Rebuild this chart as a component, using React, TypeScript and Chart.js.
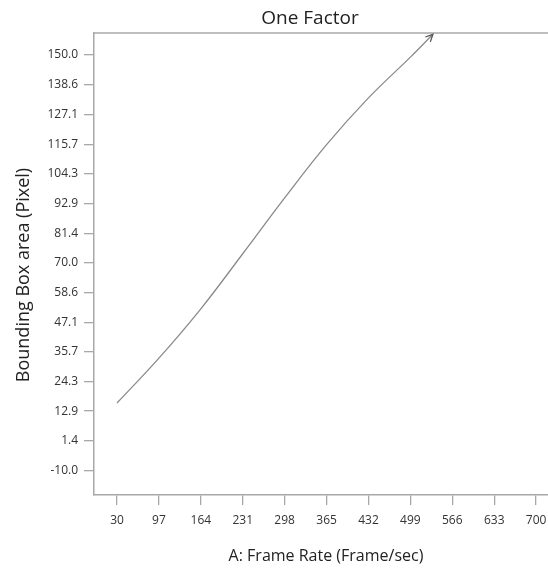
import React, { useEffect, useRef } from "react";
import { Chart, registerables } from "chart.js";

Chart.register(...registerables);

const chartTitle = "One Factor";
const xAxisTitle = "A: Frame Rate (Frame/sec)";
const yAxisTitle = "Bounding Box area (Pixel)";

const xTicks = [30, 97, 164, 231, 298, 365, 432, 499, 566, 633, 700];
const yTicks = [-10.0, 1.4, 12.9, 24.3, 35.7, 47.1, 58.6, 70.0, 81.4, 92.9, 104.3, 115.7, 127.1, 138.6, 150.0];

const frameRate = [30, 97, 164, 231, 298, 365, 432, 499, 535];
const boxArea = [16.0, 33.3, 52.3, 73.5, 95.0, 115.5, 133.5, 149.2, 158.0];

const xMin = -6.8;
const xMax = 719;
const yMin = -19.4;
const yMax = 158.5;

const frameColor = "#a8a8a8";
const lineColor = "#8a8a8a";
const textColor = "#333333";

const framePlugin = {
  id: "framePlugin",
  afterDraw(chart: any) {
    const { ctx, chartArea } = chart;
    ctx.save();
    // top line
    ctx.strokeStyle = frameColor;
    ctx.lineWidth = 1.5;
    ctx.beginPath();
    ctx.moveTo(chartArea.left, chartArea.top);
    ctx.lineTo(chartArea.right, chartArea.top);
    ctx.stroke();
    // chart title
    ctx.fillStyle = "#222222";
    ctx.textAlign = "center";
    ctx.textBaseline = "middle";
    ctx.font = "19px 'Open Sans'";
    ctx.fillText(chartTitle, 310, 19);
    // x axis title
    ctx.font = "16px 'Open Sans'";
    ctx.fillText(xAxisTitle, 326, 556);
    // y axis title
    ctx.save();
    ctx.translate(24, 275);
    ctx.rotate(-Math.PI / 2);
    ctx.font = "18px 'Open Sans'";
    ctx.fillText(yAxisTitle, 0, 0);
    ctx.restore();
    // arrow head
    const meta = chart.getDatasetMeta(0);
    const pts = meta.data;
    if (pts.length > 1) {
      const p = pts[pts.length - 1];
      const q = pts[pts.length - 2];
      const px = p.x, py = p.y;
      let bx = p.cp1x !== undefined ? p.cp1x : q.x;
      let by = p.cp1y !== undefined ? p.cp1y : q.y;
      if (Math.abs(bx - px) < 0.5 && Math.abs(by - py) < 0.5) { bx = q.x; by = q.y; }
      const ang = Math.atan2(py - by, px - bx);
      const len = 8;
      const spread = 0.45;
      ctx.strokeStyle = "#555555";
      ctx.lineWidth = 1.3;
      ctx.beginPath();
      ctx.moveTo(px - len * Math.cos(ang - spread), py - len * Math.sin(ang - spread));
      ctx.lineTo(px, py);
      ctx.lineTo(px - len * Math.cos(ang + spread), py - len * Math.sin(ang + spread));
      ctx.stroke();
    }
    ctx.restore();
  },
};

export default function App() {
  const canvasRef = useRef<HTMLCanvasElement | null>(null);

  useEffect(() => {
    if (!canvasRef.current) return;
    const chart = new Chart(canvasRef.current, {
      type: "scatter",
      data: {
        datasets: [
          {
            data: frameRate.map((x, i) => ({ x, y: boxArea[i] })),
            showLine: true,
            borderColor: lineColor,
            borderWidth: 1.3,
            pointRadius: 0,
            pointHoverRadius: 0,
            tension: 0.4,
            fill: false,
          },
        ],
      },
      options: {
        animation: false,
        responsive: true,
        maintainAspectRatio: false,
        layout: { padding: { top: 33, right: 0, left: 0, bottom: 0 } },
        plugins: {
          legend: { display: false },
          tooltip: { enabled: false },
          title: { display: false },
        },
        scales: {
          x: {
            type: "linear",
            min: xMin,
            max: xMax,
            afterBuildTicks: (scale: any) => {
              scale.ticks = xTicks.map((v) => ({ value: v }));
            },
            afterFit: (scale: any) => {
              scale.height = 75;
              scale.paddingLeft = 0;
              scale.paddingRight = 0;
            },
            ticks: {
              color: textColor,
              font: { family: "'Open Sans'", size: 12 },
              padding: 8,
              autoSkip: false,
              maxRotation: 0,
              callback: (v: any) => String(v),
            },
            grid: {
              display: true,
              drawOnChartArea: false,
              drawTicks: true,
              tickLength: 10,
              color: frameColor,
              lineWidth: 1.3,
            },
            border: { display: true, color: frameColor, width: 1.5 },
          },
          y: {
            type: "linear",
            min: yMin,
            max: yMax,
            afterBuildTicks: (scale: any) => {
              scale.ticks = yTicks.map((v) => ({ value: v }));
            },
            afterFit: (scale: any) => {
              scale.width = 94;
              scale.paddingTop = 0;
              scale.paddingBottom = 0;
            },
            ticks: {
              color: textColor,
              font: { family: "'Open Sans'", size: 12 },
              padding: 6,
              autoSkip: false,
              callback: (v: any) => Number(v).toFixed(1),
            },
            grid: {
              display: true,
              drawOnChartArea: false,
              drawTicks: true,
              tickLength: 10,
              color: frameColor,
              lineWidth: 1.3,
            },
            border: { display: true, color: frameColor, width: 1.5 },
          },
        },
      },
      plugins: [framePlugin],
    });
    return () => chart.destroy();
  }, []);

  return (
    <div style={{ position: "fixed", left: 0, top: 0, width: 548, height: 570, background: "#ffffff" }}>
      <canvas ref={canvasRef} />
    </div>
  );
}
